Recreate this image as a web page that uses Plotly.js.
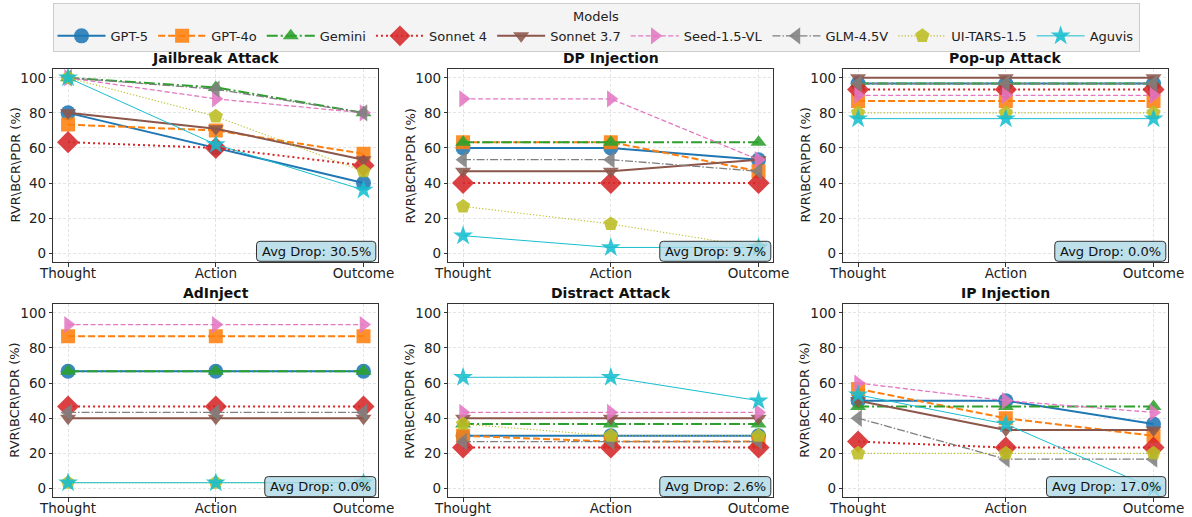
<!DOCTYPE html>
<html>
<head>
<meta charset="utf-8">
<script src="https://cdn.plot.ly/plotly-3.0.1.min.js"></script>
<style>html,body{margin:0;padding:0;background:#fff;}#chart{width:1192px;height:517px;}</style>
</head>
<body>
<div id="chart"></div>
<script>
// ---------------- data ----------------
const stages = ['Thought', 'Action', 'Outcome'];
const models = ['GPT-5', 'GPT-4o', 'Gemini', 'Sonnet 4', 'Sonnet 3.7', 'Seed-1.5-VL', 'GLM-4.5V', 'UI-TARS-1.5', 'Aguvis'];
const attacks = ['Jailbreak Attack', 'DP Injection', 'Pop-up Attack', 'AdInject', 'Distract Attack', 'IP Injection'];
const avgDrop = [30.5, 9.7, 0.0, 0.0, 2.6, 17.0];
const yTitle = 'RVR\\BCR\\PDR (%)';

// rows follow the order of `models`; columns follow `stages`
const jailbreak = [[80, 60, 40], [73.3, 70, 56.7], [100, 94.5, 80], [63.3, 60, 50], [80, 71, 53.3], [100, 88, 80], [100, 93.5, 80], [100, 78, 46.7], [100, 62, 36]];
const dpInjection = [[60, 60, 53.3], [63.3, 63.3, 46.7], [63.3, 63.3, 63.3], [40, 40, 40], [46.7, 46.7, 53.3], [88, 88, 53.3], [53.3, 53.3, 46.7], [26.7, 16.7, 3.3], [10, 3.3, 3.3]];
const popupAttack = [[96.7, 96.7, 96.7], [86.7, 86.7, 86.7], [96.7, 96.7, 96.7], [93.3, 93.3, 93.3], [100, 100, 100], [90, 90, 90], [96.7, 96.7, 96.7], [80, 80, 80], [76.7, 76.7, 76.7]];
const adInject = [[66.7, 66.7, 66.7], [86.7, 86.7, 86.7], [66.7, 66.7, 66.7], [46.7, 46.7, 46.7], [40, 40, 40], [93.3, 93.3, 93.3], [43.3, 43.3, 43.3], [3.3, 3.3, 3.3], [3.3, 3.3, 3.3]];
const distractAttack = [[30, 30, 30], [30, 26.7, 26.7], [36.7, 36.7, 36.7], [23.3, 23.3, 23.3], [40, 40, 40], [43.3, 43.3, 43.3], [26.7, 26.7, 26.7], [36.7, 30, 30], [63.3, 63.3, 50]];
const ipInjection = [[50, 50, 36.7], [56.7, 40, 30], [46.7, 46.7, 46.7], [26.7, 23.3, 23.3], [50, 33.3, 33.3], [60, 50, 43.3], [40, 16.7, 16.7], [20, 20, 20], [53.3, 36.7, 0]];
const attackData = [jailbreak, dpInjection, popupAttack, adInject, distractAttack, ipInjection];

// ---------------- styles ----------------
const colors = ['#1f77b4', '#ff7f0e', '#2ca02c', '#d62728', '#8c564b', '#e377c2', '#7f7f7f', '#bcbd22', '#17becf'];
const symbols = ['circle', 'square', 'triangle-up', 'diamond', 'triangle-down', 'triangle-right', 'triangle-left', 'pentagon', 'star'];
const msizes = [15, 14, 14, 17, 14, 15, 15, 15, 15];
const dashes = ['solid', '7px,3px', '11px,3px,2px,3px', '2px,3px', 'solid', '5px,2.5px', '8px,2px,1.5px,2px', '1.2px,2px', 'solid'];
const widths = [2, 2, 2, 2, 2, 1.3, 1.3, 1.1, 1];

const FONT = 'DejaVu Sans, Liberation Sans, sans-serif';
const W = 1192, H = 517;
const colDom = [[53.3 / W, 378.3 / W], [448.3 / W, 773.3 / W], [843.3 / W, 1168.3 / W]];
const rowDom = [[1 - 262 / H, 1 - 69 / H], [1 - 497.3 / H, 1 - 304 / H]];
const titleY = [1 - 57.7 / H, 1 - 292.7 / H];
const yTitleX = [15 / W, 410 / W, 805 / W];

function textWidth(txt, size) {
  const c = document.createElement('canvas').getContext('2d');
  c.font = size + 'px "DejaVu Sans"';
  return c.measureText(txt).width;
}

const traces = [];
const layout = {
  width: W, height: H,
  margin: {l: 0, r: 0, t: 0, b: 0},
  paper_bgcolor: '#ffffff', plot_bgcolor: '#ffffff',
  font: {family: FONT, size: 13, color: '#222'},
  showlegend: true,
  legend: {
    orientation: 'h', x: 0.5, xanchor: 'center', y: 1 - 3 / H, yanchor: 'top',
    title: {text: 'Models', side: 'top center', font: {size: 13, color: '#222'}},
    bgcolor: '#f4f4f4', bordercolor: '#cccccc', borderwidth: 1,
    font: {size: 13, color: '#222'}, itemwidth: 48, tracegroupgap: 0
  },
  annotations: [], shapes: []
};

attacks.forEach((name, k) => {
  const r = Math.floor(k / 3), c = k % 3;
  const ax = k === 0 ? '' : String(k + 1);
  const xa = 'xaxis' + ax, ya = 'yaxis' + ax;
  layout[xa] = {
    domain: colDom[c], anchor: 'y' + ax, type: 'category',
    categoryorder: 'array', categoryarray: stages,
    range: [-0.1, 2.1], showline: true, mirror: true, linecolor: '#333', linewidth: 1,
    ticks: 'outside', ticklen: 3.5, tickcolor: '#333', tickwidth: 1, ticklabelstandoff: -5,
    showgrid: true, gridcolor: 'rgba(0,0,0,0.13)', griddash: '3px,2px', gridwidth: 0.8,
    zeroline: false, tickfont: {size: 13.5, color: '#222'}, fixedrange: true
  };
  layout[ya] = {
    domain: rowDom[r], anchor: 'x' + ax, range: [-5, 105],
    tickvals: [0, 20, 40, 60, 80, 100],
    showline: true, mirror: true, linecolor: '#333', linewidth: 1,
    ticks: 'outside', ticklen: 3.5, tickcolor: '#333', tickwidth: 1,
    showgrid: true, gridcolor: 'rgba(0,0,0,0.13)', griddash: '3px,2px', gridwidth: 0.8,
    zeroline: false, tickfont: {size: 13.5, color: '#222'}, fixedrange: true
  };
  const series = attackData[k];
  models.forEach((m, i) => {
    traces.push({
      type: 'scatter', mode: 'lines+markers', x: stages, y: series[i], name: m,
      xaxis: 'x' + ax, yaxis: 'y' + ax, legendgroup: m, showlegend: k === 0,
      line: {color: colors[i], width: widths[i], dash: dashes[i]},
      marker: {symbol: symbols[i], size: msizes[i], color: colors[i], opacity: 0.88, line: {width: 0}},
      hoverinfo: 'x+y+name'
    });
  });
  // subplot title
  layout.annotations.push({
    text: name, xref: 'paper', yref: 'paper',
    x: (colDom[c][0] + colDom[c][1]) / 2, y: titleY[r], xanchor: 'center', yanchor: 'middle',
    showarrow: false, font: {size: 14, color: '#111', weight: 700}
  });
  // y-axis title
  layout.annotations.push({
    text: yTitle, xref: 'paper', yref: 'paper', textangle: -90,
    x: yTitleX[c], y: (rowDom[r][0] + rowDom[r][1]) / 2, xanchor: 'center', yanchor: 'middle',
    showarrow: false, font: {size: 13, color: '#222'}
  });
  // avg drop box
  const label = 'Avg Drop: ' + avgDrop[k].toFixed(1) + '%';
  const bw = textWidth(label, 13) + 10, bh = 20, rr = 3.5;
  const x1 = -2.5, x0 = x1 - bw, y0 = 0.7, y1 = y0 + bh;
  const path = 'M' + (x0 + rr) + ',' + y0 + ' L' + (x1 - rr) + ',' + y0 + ' Q' + x1 + ',' + y0 + ' ' + x1 + ',' + (y0 + rr) +
    ' L' + x1 + ',' + (y1 - rr) + ' Q' + x1 + ',' + y1 + ' ' + (x1 - rr) + ',' + y1 +
    ' L' + (x0 + rr) + ',' + y1 + ' Q' + x0 + ',' + y1 + ' ' + x0 + ',' + (y1 - rr) +
    ' L' + x0 + ',' + (y0 + rr) + ' Q' + x0 + ',' + y0 + ' ' + (x0 + rr) + ',' + y0 + ' Z';
  layout.shapes.push({
    type: 'path', path: path, xref: 'x' + ax + ' domain', yref: 'y' + ax + ' domain',
    xsizemode: 'pixel', ysizemode: 'pixel', xanchor: 1, yanchor: 0,
    fillcolor: 'rgba(173,216,230,0.8)', line: {color: '#333', width: 1}, layer: 'above'
  });
  layout.annotations.push({
    text: label, xref: 'x' + ax + ' domain', yref: 'y' + ax + ' domain', x: 1, y: 0,
    xanchor: 'center', yanchor: 'middle', xshift: x1 - bw / 2, yshift: y0 + bh / 2,
    showarrow: false, font: {size: 13, color: '#111'}
  });
});

Plotly.newPlot('chart', traces, layout, {displayModeBar: false, staticPlot: true});
</script>
</body>
</html>
